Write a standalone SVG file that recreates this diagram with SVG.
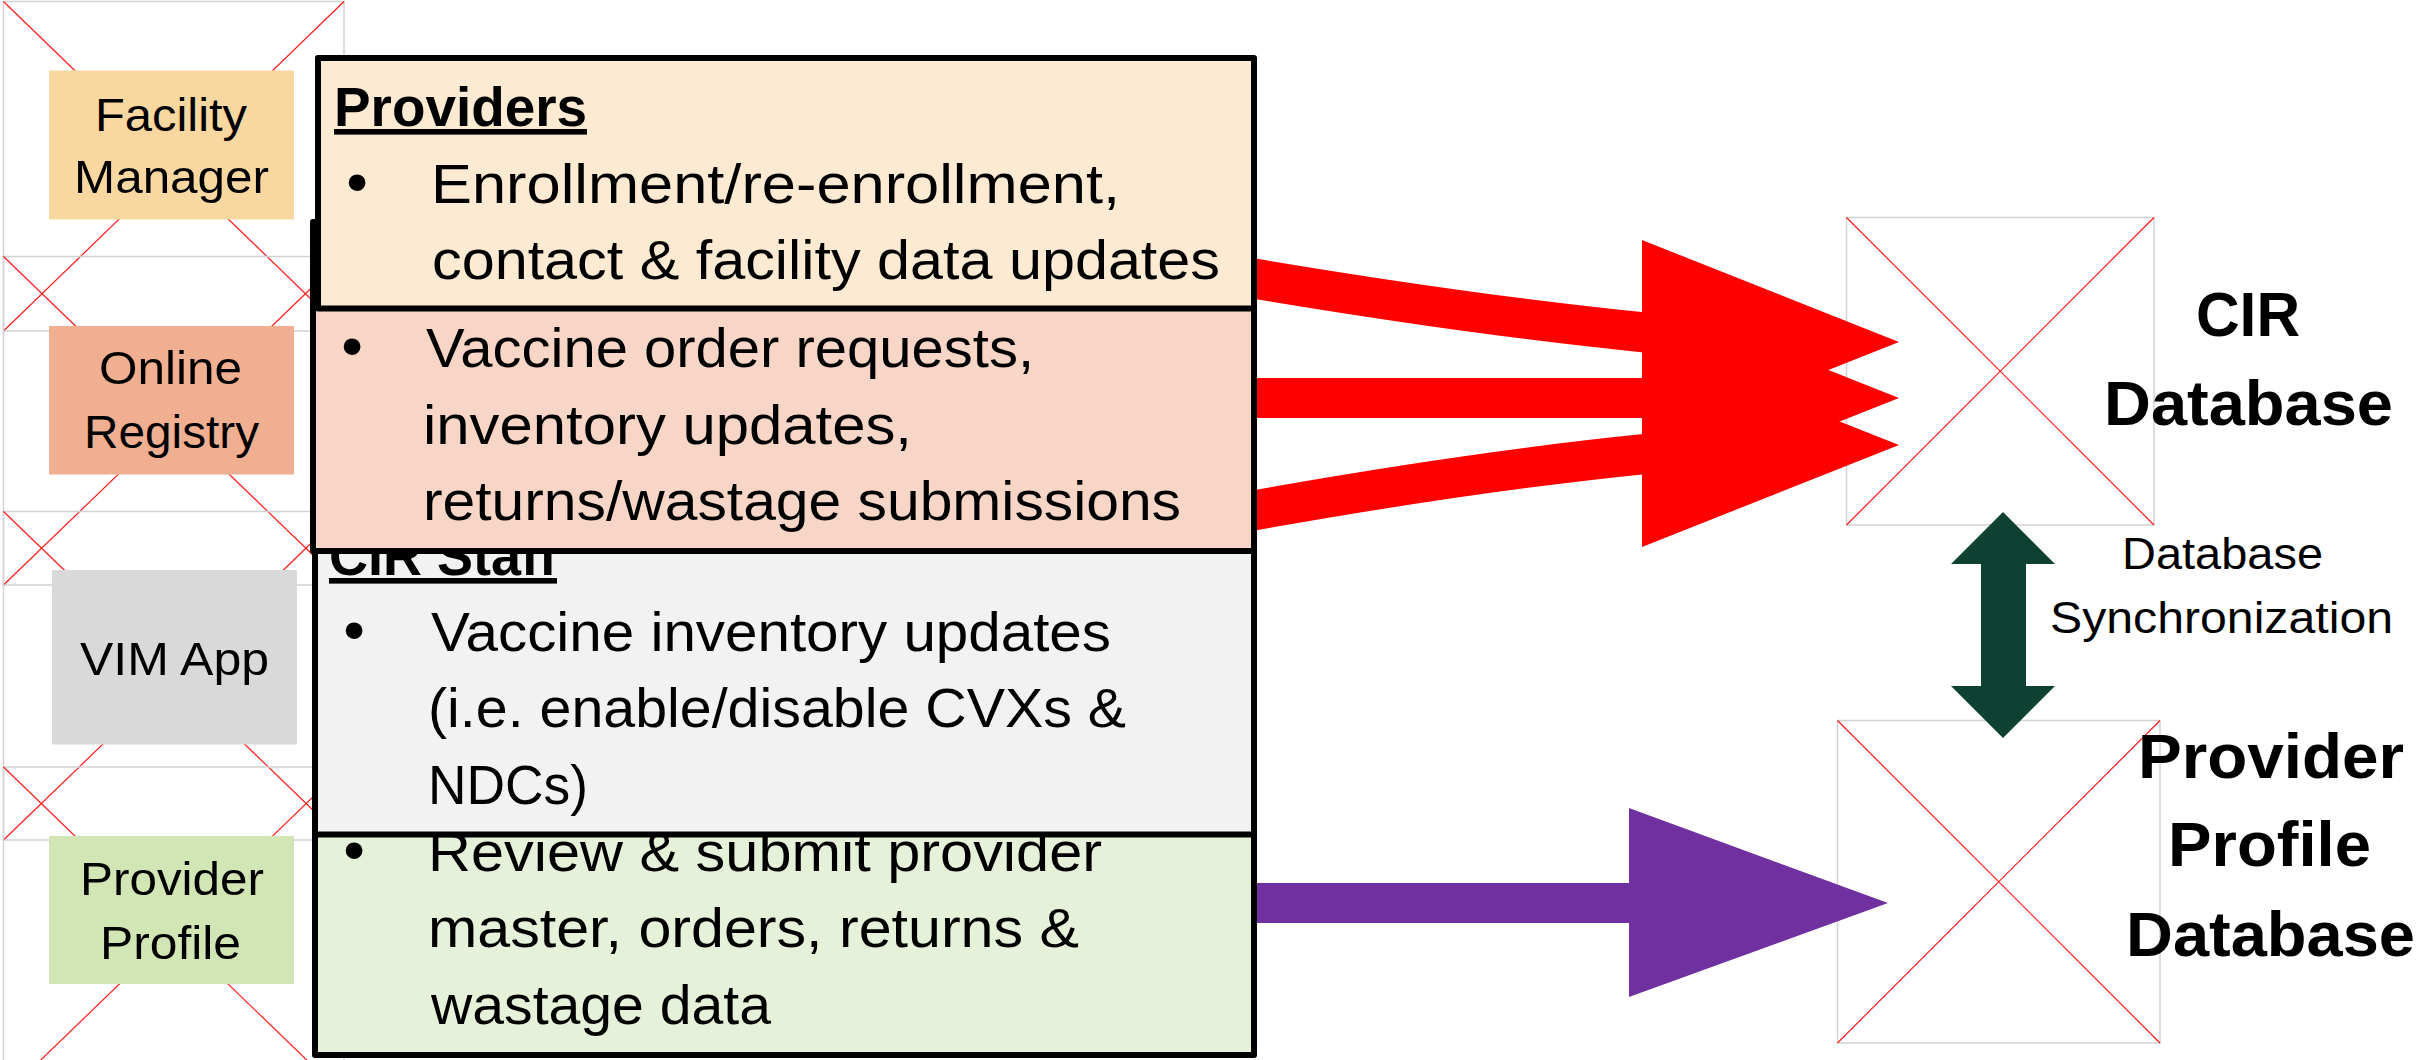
<svg xmlns="http://www.w3.org/2000/svg" width="2433" height="1060" viewBox="0 0 2433 1060">
<style>
.ph rect{fill:none;stroke:#D2D2D2;stroke-width:1.5}
.ph line{stroke:#FF1A1A;stroke-width:1.2}
.lbl{font-family:"Liberation Sans",Arial,sans-serif;font-size:47px;fill:#000}
.body{font-family:"Liberation Sans",Arial,sans-serif;font-size:56px;fill:#000}
.head{font-family:"Liberation Sans",Arial,sans-serif;font-size:56px;font-weight:bold;fill:#000;text-decoration:underline}
.bul{font-family:"Liberation Sans",Arial,sans-serif;font-size:62px;text-anchor:middle;fill:#000}
.box{stroke:#000;stroke-width:6;stroke-linejoin:round}
.db{font-family:"Liberation Sans",Arial,sans-serif;font-size:63px;font-weight:bold;fill:#000}
.sync{font-family:"Liberation Sans",Arial,sans-serif;font-size:45px;fill:#000}
.red{fill:none;stroke:#FF0000;stroke-width:40}
</style>
<rect width="2433" height="1060" fill="#FFFFFF"/>

<g id="placeholders-left" class="ph">
  <rect x="3.5" y="1.5" width="340.5" height="329.5"/>
  <line x1="3.5" y1="1.5" x2="344" y2="331"/><line x1="344" y1="1.5" x2="3.5" y2="331"/>
  <rect x="3.5" y="256.5" width="340.5" height="328.5"/>
  <line x1="3.5" y1="256.5" x2="344" y2="585"/><line x1="344" y1="256.5" x2="3.5" y2="585"/>
  <rect x="3.5" y="511.5" width="340.5" height="328.5"/>
  <line x1="3.5" y1="511.5" x2="344" y2="840"/><line x1="344" y1="511.5" x2="3.5" y2="840"/>
  <rect x="3.5" y="767" width="340.5" height="329"/>
  <line x1="3.5" y1="767" x2="344" y2="1096"/><line x1="344" y1="767" x2="3.5" y2="1096"/>
</g>

<g id="placeholders-right" class="ph">
  <rect x="1846.5" y="217.5" width="307.5" height="307.5"/>
  <line x1="1846.5" y1="217.5" x2="2154" y2="525"/><line x1="2154" y1="217.5" x2="1846.5" y2="525"/>
  <rect x="1837.5" y="720.5" width="322.5" height="322.5"/>
  <line x1="1837.5" y1="720.5" x2="2160" y2="1043"/><line x1="2160" y1="720.5" x2="1837.5" y2="1043"/>
</g>

<g id="connectors">
  <path class="red" d="M1245,277 Q1470,315 1650,333"/>
  <path class="red" d="M1245,398 L1650,398"/>
  <path class="red" d="M1245,512 Q1470,471.5 1650,453.5"/>
  <polygon fill="#FF0000" points="1642,240 1899,342 1642,444"/>
  <polygon fill="#FF0000" points="1642,296 1899,398 1642,500"/>
  <polygon fill="#FF0000" points="1642,343 1899,445 1642,547"/>
  <polygon fill="#7030A0" points="1245,883 1629,883 1629,808 1888,903 1629,997 1629,923 1245,923"/>
  <polygon fill="#0E4131" points="2003,512 2055,564 2026,564 2026,686 2055,686 2003,738 1951,686 1981,686 1981,564 1951,564"/>
</g>

<g id="facility-manager">
  <rect x="49" y="70.5" width="245" height="149" fill="#F8D7A1"/>
  <text class="lbl" x="95" y="131" textLength="152" lengthAdjust="spacingAndGlyphs">Facility</text>
  <text class="lbl" x="74" y="193" textLength="195" lengthAdjust="spacingAndGlyphs">Manager</text>
</g>
<g id="online-registry">
  <rect x="49" y="326" width="245" height="148.5" fill="#F0AF91"/>
  <text class="lbl" x="99" y="384" textLength="143" lengthAdjust="spacingAndGlyphs">Online</text>
  <text class="lbl" x="84" y="448" textLength="175" lengthAdjust="spacingAndGlyphs">Registry</text>
</g>
<g id="vim-app">
  <rect x="52" y="570" width="245" height="174.5" fill="#D9D9D9"/>
  <text class="lbl" x="80" y="675" textLength="189" lengthAdjust="spacingAndGlyphs">VIM App</text>
</g>
<g id="provider-profile">
  <rect x="49" y="836" width="245" height="148" fill="#D1E6B4"/>
  <text class="lbl" x="80" y="895" textLength="184" lengthAdjust="spacingAndGlyphs">Provider</text>
  <text class="lbl" x="100" y="959" textLength="141" lengthAdjust="spacingAndGlyphs">Profile</text>
</g>

<g id="provider-profile-tasks">
  <rect class="box" x="315" y="760" width="939" height="295" fill="#E6F1DA"/>
  <text class="bul" x="354" y="871">•</text>
  <text class="body" x="428" y="871" textLength="674" lengthAdjust="spacingAndGlyphs">Review &amp; submit provider</text>
  <text class="body" x="428" y="947" textLength="651" lengthAdjust="spacingAndGlyphs">master, orders, returns &amp;</text>
  <text class="body" x="431" y="1024" textLength="340" lengthAdjust="spacingAndGlyphs">wastage data</text>
</g>

<g id="cir-staff">
  <rect class="box" x="315" y="480" width="939" height="354.5" fill="#F2F2F2"/>
  <text class="head" x="329" y="575" textLength="228" lengthAdjust="spacingAndGlyphs">CIR Staff</text>
  <text class="bul" x="354" y="651">•</text>
  <text class="body" x="431" y="651" textLength="680" lengthAdjust="spacingAndGlyphs">Vaccine inventory updates</text>
  <text class="body" x="428" y="727" textLength="698" lengthAdjust="spacingAndGlyphs">(i.e. enable/disable CVXs &amp;</text>
  <text class="body" x="428" y="804" textLength="160" lengthAdjust="spacingAndGlyphs">NDCs)</text>
</g>

<g id="online-registry-tasks">
  <rect class="box" x="313" y="222" width="941" height="329" fill="#F8D6C7"/>
  <text class="bul" x="352" y="367">•</text>
  <text class="body" x="426" y="367" textLength="608" lengthAdjust="spacingAndGlyphs">Vaccine order requests,</text>
  <text class="body" x="423" y="444" textLength="489" lengthAdjust="spacingAndGlyphs">inventory updates,</text>
  <text class="body" x="423" y="520" textLength="758" lengthAdjust="spacingAndGlyphs">returns/wastage submissions</text>
</g>

<g id="providers">
  <rect class="box" x="318" y="58" width="936" height="250.5" fill="#FCEAD2"/>
  <text class="head" x="334" y="126" textLength="253" lengthAdjust="spacingAndGlyphs">Providers</text>
  <text class="bul" x="357" y="203">•</text>
  <text class="body" x="431" y="203" textLength="689" lengthAdjust="spacingAndGlyphs">Enrollment/re-enrollment,</text>
  <text class="body" x="432" y="279" textLength="788" lengthAdjust="spacingAndGlyphs">contact &amp; facility data updates</text>
</g>

<g id="cir-database">
  <text class="db" x="2196" y="336" textLength="104" lengthAdjust="spacingAndGlyphs">CIR</text>
  <text class="db" x="2104" y="425" textLength="289" lengthAdjust="spacingAndGlyphs">Database</text>
</g>

<g id="sync-label">
  <text class="sync" x="2122" y="569" textLength="201" lengthAdjust="spacingAndGlyphs">Database</text>
  <text class="sync" x="2050" y="633" textLength="343" lengthAdjust="spacingAndGlyphs">Synchronization</text>
</g>

<g id="provider-profile-database">
  <text class="db" x="2138" y="778" textLength="266" lengthAdjust="spacingAndGlyphs">Provider</text>
  <text class="db" x="2168" y="866" textLength="203" lengthAdjust="spacingAndGlyphs">Profile</text>
  <text class="db" x="2126" y="956" textLength="289" lengthAdjust="spacingAndGlyphs">Database</text>
</g>
</svg>
